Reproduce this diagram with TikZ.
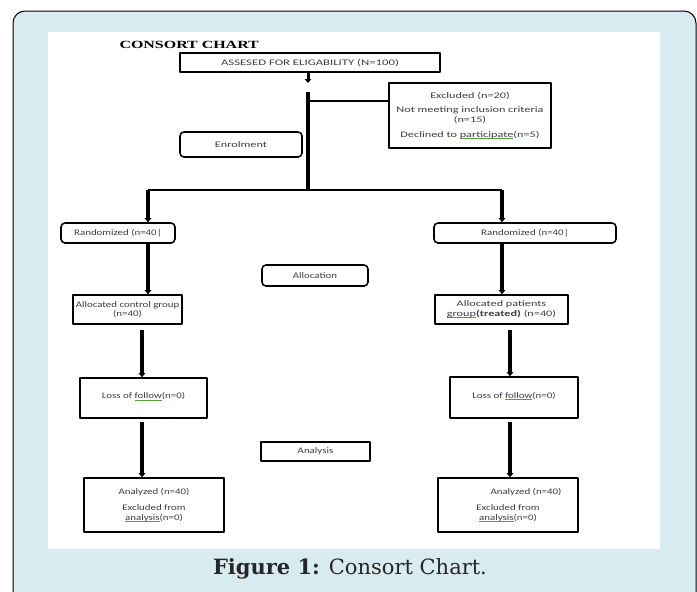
\documentclass[tikz,border=0pt]{standalone}
\usepackage{fontspec}
\setmainfont{Carlito}
\newfontfamily\chartfont[FakeStretch=1.28]{Carlito}
\newfontfamily\widefont[FakeStretch=1.44]{Carlito}
\newfontfamily\headfont[FakeStretch=1.45]{Liberation Serif}
\newfontfamily\capfont{DejaVu Serif}
\usetikzlibrary{arrows.meta}
\definecolor{framebg}{HTML}{D7EBF0}
\definecolor{txtgrey}{HTML}{3C3C46}
\definecolor{spellgreen}{HTML}{5AA02C}
\newsavebox{\spellbox}
\newcommand{\spell}[1]{\sbox{\spellbox}{#1}\rlap{\textcolor{spellgreen}{\rule[-1.6pt]{\wd\spellbox}{0.7pt}}}\usebox{\spellbox}}

\begin{document}
\begin{tikzpicture}[x=1pt,y=-1pt,line join=round,>={Triangle[length=4pt,width=6.5pt]}]
	\tikzset{
		box/.style={draw,line width=1.6pt,font=\chartfont\fontsize{8.5}{9.5}\selectfont,text=txtgrey,align=center,inner sep=0.5pt},
		widebox/.style={box,font=\widefont\fontsize{8.5}{9.5}\selectfont},
		roundbox/.style={box,rounded corners=4pt},
		link/.style={line width=4pt,->},
		bar/.style={line width=2.6pt}
	}
	\useasboundingbox (0,0) rectangle (697,592);
	\clip (0,0) rectangle (697,592);
	% page frame
	\draw[fill=framebg,line width=1pt,rounded corners=12pt] (13,11) rectangle (696,640);
	\fill[white] (48,32) rectangle (660,549);
	\node[anchor=west,font=\headfont\bfseries\fontsize{11}{12}\selectfont] (title) at (116,45) {CONSORT CHART};
	% enrolment
	\node[box,font=\chartfont\fontsize{8.5}{9.5}\selectfont\addfontfeatures{FakeStretch=1.5},minimum width=260,minimum height=19] (assess) at (310,62.5) {ASSESED FOR ELIGABILITY (N=100)};
	\node[widebox,minimum width=162,minimum height=65] (excl) at (470,115.5) {Excluded (n=20)\\[5pt]Not meeting inclusion criteria\\(n=15)\\[6pt]Declined to \spell{participate}(n=5)};
	\node[roundbox,font=\widefont\fontsize{8.5}{9.5}\selectfont,minimum width=122,minimum height=25] (enrol) at (241,144.5) {Enrolment};
	% allocation
	\node[roundbox,minimum width=114,minimum height=20] (randL) at (118,233) {Randomized (n=40|};
	\node[roundbox,minimum width=182,minimum height=20] (randR) at (525,233) {Randomized (n=40|};
	\node[roundbox,minimum width=106,minimum height=21] (alloc) at (315,275.5) {Allocation};
	\node[box,minimum width=109,minimum height=29] (allocL) at (127.5,309.5) {Allocated control group\\(n=40)};
	\node[widebox,minimum width=133,minimum height=29] (allocR) at (501.5,309.5) {Allocated patients\\\spell{group}\textbf{(treated)} (n=40)};
	% follow up and analysis
	\node[box,minimum width=127,minimum height=40] (lossL) at (143.5,398) {\raisebox{5pt}{Loss of \spell{follow}(n=0)}};
	\node[box,minimum width=128,minimum height=41] (lossR) at (514,397.5) {\raisebox{5pt}{Loss of \spell{follow}(n=0)}};
	\node[box,minimum width=109,minimum height=19] (analysis) at (315.5,451.5) {Analysis};
	\node[box,minimum width=140,minimum height=54] (anaL) at (154,505) {Analyzed (n=40)\\[7pt]Excluded from\\\spell{analysis}(n=0)};
	\node[box,minimum width=140,minimum height=54] (anaR) at (508,505) {\hspace*{36pt}Analyzed (n=40)\\[7pt]Excluded from\\\spell{analysis}(n=0)};
	\node[font=\capfont\fontsize{21}{24}\selectfont,text=black!85] (caption) at (350,569) {\textbf{Figure 1:} Consort Chart.};
	% connectors
	\coordinate (gap) at (308,83);
	\coordinate (trunkTop) at (308,92);
	\coordinate (trunkBot) at (308,190);
	\coordinate (exclJoin) at (308,101);
	\coordinate (splitL) at (148,190);
	\coordinate (splitR) at (502,190);
	\coordinate (colL) at (142,0);
	\coordinate (colR) at (510,0);
	\draw[line width=3pt,->] (assess.south -| gap) -- (gap);
	\draw[line width=4pt] (trunkTop) -- (trunkBot);
	\draw[bar] (exclJoin) -- (exclJoin -| excl.west);
	\draw[bar] (splitL) -- (splitR);
	\draw[link] (splitL) -- (splitL |- randL.north);
	\draw[link] (splitR) -- (splitR |- randR.north);
	\draw[link] (randL.south -| splitL) -- (allocL.north -| splitL);
	\draw[link] (randR.south -| splitR) -- (allocR.north -| splitR);
	\draw[link,shorten <=5pt] (allocL.south -| colL) -- (lossL.north -| colL);
	\draw[link,shorten <=5pt] (allocR.south -| colR) -- (lossR.north -| colR);
	\draw[link,shorten <=3pt] (lossL.south -| colL) -- (anaL.north -| colL);
	\draw[link,shorten <=3pt] (lossR.south -| colR) -- (anaR.north -| colR);
\end{tikzpicture}
\end{document}
